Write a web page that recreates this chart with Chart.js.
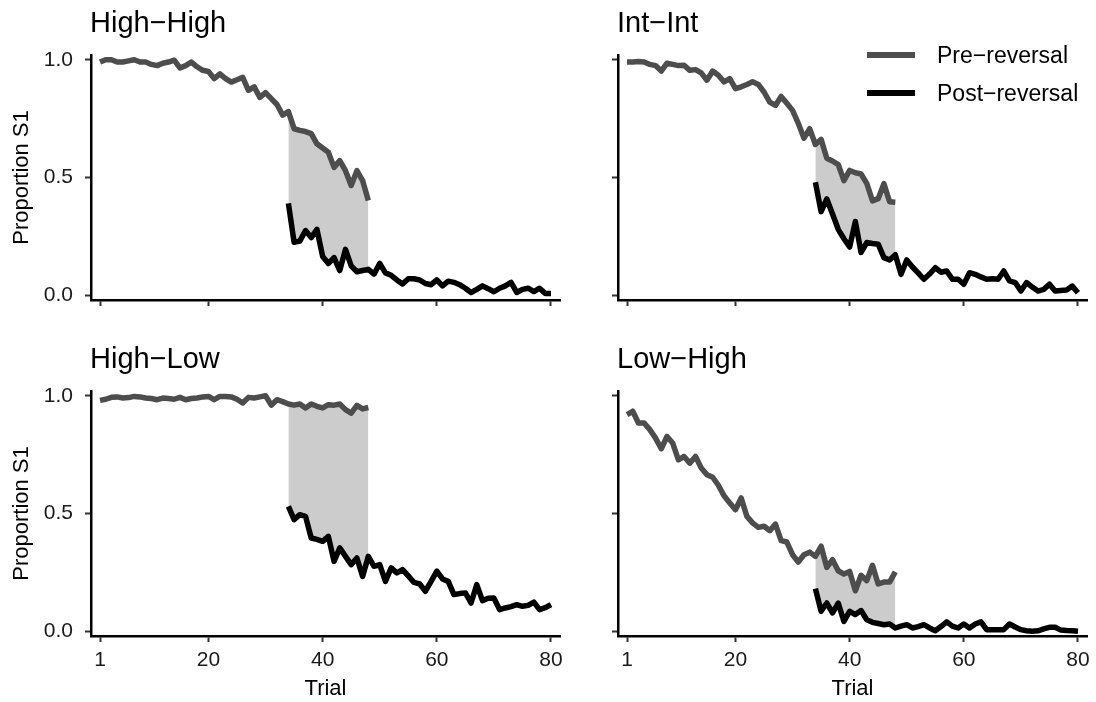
<!DOCTYPE html>
<html>
<head>
<meta charset="utf-8">
<script src="https://cdn.jsdelivr.net/npm/chart.js@4.4.1/dist/chart.umd.min.js"></script>
<style>
  body { margin: 0; background: #fff; }
  #wrap { position: relative; width: 1096px; height: 702px; font-family: "Liberation Sans", Arial, sans-serif; color: #000; }
  canvas { position: absolute; }
  .panel-title { position: absolute; font-size: 29px; line-height: 29px; white-space: nowrap; }
  .legend-key { position: absolute; left: 867px; width: 48px; height: 6px; }
  .legend-text { position: absolute; left: 937px; font-size: 23px; line-height: 23px; white-space: nowrap; }
</style>
</head>
<body>
<div id="wrap">
  <canvas id="p0" width="575" height="345" style="left:0;top:0"></canvas>
  <canvas id="p1" width="521" height="345" style="left:575px;top:0"></canvas>
  <canvas id="p2" width="575" height="357" style="left:0;top:345px"></canvas>
  <canvas id="p3" width="521" height="357" style="left:575px;top:345px"></canvas>

  <div class="panel-title" id="t0" style="left:90px;top:8px"></div>
  <div class="panel-title" id="t1" style="left:617px;top:8px"></div>
  <div class="panel-title" id="t2" style="left:90px;top:344px"></div>
  <div class="panel-title" id="t3" style="left:617px;top:344px"></div>

  <div class="legend-key" style="top:52px;background:#4d4d4d"></div>
  <div class="legend-text" id="lg0" style="top:44px"></div>
  <div class="legend-key" style="top:90px;background:#000"></div>
  <div class="legend-text" id="lg1" style="top:82px"></div>
</div>

<script>
// ── Data ───────────────────────────────────────────
const panelTitles = ['High−High', 'Int−Int', 'High−Low', 'Low−High'];
const seriesNames = ['Pre−reversal', 'Post−reversal'];
const xTicks = [1, 20, 40, 60, 80];
const yTicks = [0, 0.5, 1];
const preStart = 1;    // pre-reversal trials 1..48
const postStart = 34;  // post-reversal trials 34..80
const shadeEnd = 48;

const preHighHigh = [
  0.99, 1.00, 1.00, 0.99, 0.99, 0.995, 1.00, 0.99, 0.99, 0.98,
  0.975, 0.985, 0.99, 0.998, 0.965, 0.975, 0.99, 0.97, 0.955, 0.95,
  0.92, 0.94, 0.92, 0.905, 0.915, 0.925, 0.87, 0.885, 0.84, 0.86,
  0.835, 0.81, 0.765, 0.78, 0.707, 0.70, 0.695, 0.686, 0.643, 0.625,
  0.607, 0.543, 0.572, 0.529, 0.466, 0.529, 0.487, 0.402
];
const postHighHigh = [
  0.39, 0.225, 0.23, 0.275, 0.245, 0.28, 0.165, 0.135, 0.16, 0.105,
  0.195, 0.125, 0.10, 0.105, 0.11, 0.09, 0.135, 0.095, 0.085, 0.065,
  0.048, 0.07, 0.07, 0.065, 0.05, 0.045, 0.065, 0.04, 0.06, 0.055,
  0.045, 0.03, 0.012, 0.025, 0.04, 0.028, 0.015, 0.03, 0.04, 0.055,
  0.012, 0.025, 0.03, 0.016, 0.03, 0.008, 0.008
];

const preIntInt = [
  0.99, 0.99, 0.992, 0.99, 0.98, 0.975, 0.952, 0.985, 0.98, 0.975,
  0.976, 0.955, 0.958, 0.944, 0.913, 0.952, 0.934, 0.906, 0.92, 0.877,
  0.885, 0.895, 0.906, 0.895, 0.863, 0.82, 0.806, 0.844, 0.815, 0.785,
  0.73, 0.667, 0.707, 0.64, 0.662, 0.582, 0.57, 0.555, 0.487, 0.53,
  0.52, 0.515, 0.475, 0.401, 0.41, 0.474, 0.397, 0.395
];
const postIntInt = [
  0.48, 0.355, 0.409, 0.345, 0.28, 0.24, 0.205, 0.313, 0.182, 0.224,
  0.22, 0.217, 0.16, 0.15, 0.172, 0.089, 0.15, 0.12, 0.095, 0.068,
  0.09, 0.117, 0.098, 0.103, 0.068, 0.068, 0.047, 0.096, 0.089, 0.078,
  0.068, 0.07, 0.068, 0.103, 0.061, 0.054, 0.018, 0.054, 0.035, 0.018,
  0.025, 0.047, 0.018, 0.02, 0.022, 0.039, 0.011
];

const preHighLow = [
  0.98, 0.985, 0.993, 0.995, 0.99, 0.992, 0.997, 0.995, 0.99, 0.988,
  0.983, 0.99, 0.988, 0.985, 0.993, 0.983, 0.988, 0.99, 0.995, 0.997,
  0.983, 0.997, 0.997, 0.995, 0.985, 0.969, 0.993, 0.99, 0.995, 1.0,
  0.96, 0.983, 0.975, 0.965, 0.96, 0.965, 0.948, 0.965, 0.955, 0.948,
  0.962, 0.96, 0.965, 0.941, 0.926, 0.959, 0.944, 0.95
];
const postHighLow = [
  0.53, 0.474, 0.495, 0.488, 0.396, 0.39, 0.382, 0.403, 0.297, 0.354,
  0.318, 0.283, 0.311, 0.233, 0.318, 0.276, 0.283, 0.212, 0.269, 0.248,
  0.262, 0.235, 0.208, 0.201, 0.17, 0.212, 0.255, 0.222, 0.212, 0.156,
  0.16, 0.163, 0.12, 0.198, 0.13, 0.14, 0.141, 0.092, 0.099, 0.105,
  0.113, 0.106, 0.11, 0.124, 0.092, 0.1, 0.113
];

const preLowHigh = [
  0.92, 0.934, 0.884, 0.884, 0.856, 0.82, 0.775, 0.827, 0.799, 0.728,
  0.742, 0.714, 0.742, 0.693, 0.665, 0.654, 0.62, 0.575, 0.545, 0.516,
  0.566, 0.488, 0.46, 0.441, 0.446, 0.427, 0.455, 0.385, 0.379, 0.325,
  0.294, 0.325, 0.336, 0.318, 0.361, 0.271, 0.304, 0.257, 0.243, 0.254,
  0.172, 0.238, 0.215, 0.28, 0.201, 0.209, 0.209, 0.252
];
const postLowHigh = [
  0.181, 0.085, 0.12, 0.078, 0.12, 0.042, 0.085, 0.071, 0.088, 0.049,
  0.038, 0.033, 0.028, 0.031, 0.014, 0.022, 0.028, 0.014, 0.02, 0.028,
  0.014, 0.002, 0.02, 0.04, 0.022, 0.014, 0.031, 0.014, 0.031, 0.04,
  0.007, 0.007, 0.007, 0.007, 0.031, 0.018, 0.007, 0.002, 0.0, 0.002,
  0.01, 0.017, 0.017, 0.005, 0.003, 0.002, 0.0
];

// ── Style ──────────────────────────────────────────
const FONT = '"Liberation Sans", Arial, sans-serif';
const PRE_COLOR = '#4d4d4d';
const POST_COLOR = '#000000';
const SHADE_COLOR = '#cccccc';

// ── Panel builder ──────────────────────────────────
function makePanel(id, pre, post, bottomRow, leftCol) {
  const prePts = pre.map((v, i) => ({ x: preStart + i, y: v }));
  const postPts = post.map((v, i) => ({ x: postStart + i, y: v }));
  const nShade = shadeEnd - postStart + 1;
  const shadeTop = prePts.slice(postStart - preStart, postStart - preStart + nShade);
  const shadeBottom = postPts.slice(0, nShade);

  const lineStyle = { pointRadius: 0, borderWidth: 5.5, tension: 0, fill: false, borderJoinStyle: 'round', borderCapStyle: 'butt' };

  new Chart(document.getElementById(id), {
    type: 'line',
    data: {
      datasets: [
        { ...lineStyle, label: seriesNames[0], data: prePts, borderColor: PRE_COLOR },
        { ...lineStyle, label: seriesNames[1], data: postPts, borderColor: POST_COLOR },
        { data: shadeTop, pointRadius: 0, borderWidth: 1, borderColor: 'rgba(0,0,0,0)', backgroundColor: SHADE_COLOR, fill: '+1' },
        { data: shadeBottom, pointRadius: 0, borderWidth: 1, borderColor: 'rgba(0,0,0,0)', fill: false },
      ],
    },
    options: {
      responsive: false,
      animation: false,
      events: [],
      layout: { padding: { top: bottomRow ? 46 : 55, right: leftCol ? 15 : 9, bottom: 0, left: 0 } },
      plugins: { legend: { display: false }, tooltip: { enabled: false } },
      scales: {
        x: {
          type: 'linear',
          min: -0.58,
          max: 81.58,
          afterBuildTicks: s => { s.ticks = xTicks.map(v => ({ value: v })); },
          afterFit: s => { s.height = bottomRow ? 66 : 45; s.paddingLeft = 0; s.paddingRight = 0; },
          grid: { drawOnChartArea: false, drawTicks: true, tickLength: 6, tickColor: '#333', tickWidth: 2 },
          border: { display: true, color: '#000', width: 2.5 },
          ticks: {
            display: bottomRow, padding: 6, color: '#1a1a1a', autoSkip: false, maxRotation: 0,
            font: { family: FONT, size: 21 },
            callback: v => String(v),
          },
          title: { display: bottomRow, text: 'Trial', color: '#000', font: { family: FONT, size: 22 }, padding: { top: 0, bottom: 0 } },
        },
        y: {
          min: -0.02,
          max: 1.02,
          afterBuildTicks: s => { s.ticks = yTicks.map(v => ({ value: v })); },
          afterFit: s => { s.width = leftCol ? 91 : 43; s.paddingTop = 0; s.paddingBottom = 0; },
          grid: { drawOnChartArea: false, drawTicks: true, tickLength: 6, tickColor: '#333', tickWidth: 2 },
          border: { display: true, color: '#000', width: 2.5 },
          ticks: {
            display: leftCol, padding: 12, color: '#1a1a1a',
            font: { family: FONT, size: 21 },
            callback: v => Number(v).toFixed(1),
          },
          title: { display: leftCol, text: 'Proportion S1', color: '#000', font: { family: FONT, size: 22 }, padding: { top: 9, bottom: 0 } },
        },
      },
    },
  });
}

// ── Render ─────────────────────────────────────────
makePanel('p0', preHighHigh, postHighHigh, false, true);
makePanel('p1', preIntInt, postIntInt, false, false);
makePanel('p2', preHighLow, postHighLow, true, true);
makePanel('p3', preLowHigh, postLowHigh, true, false);

panelTitles.forEach((t, i) => { document.getElementById('t' + i).textContent = t; });
document.getElementById('lg0').textContent = seriesNames[0];
document.getElementById('lg1').textContent = seriesNames[1];
</script>
</body>
</html>
